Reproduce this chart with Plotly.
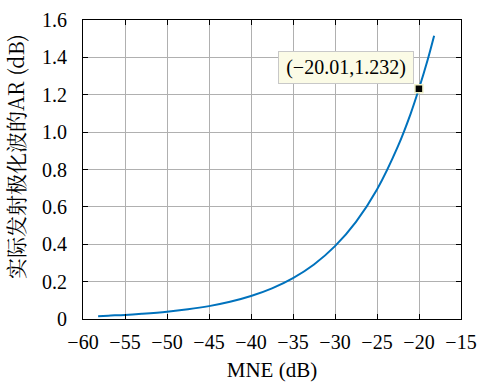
import plotly.graph_objects as go

# Data
mne_db = [-58.2, -57, -55, -53, -50, -47.5, -45, -42.5, -40, -37.5, -35, -32.5, -30,
          -27.5, -25, -22.5, -21, -20.01, -19, -18.2]
ar_db = [0.015, 0.018, 0.022, 0.028, 0.039, 0.052, 0.069, 0.092, 0.123, 0.164, 0.219,
         0.292, 0.390, 0.520, 0.693, 0.925, 1.098, 1.232, 1.382, 1.516]
tip_x = [-20.01]
tip_y = [1.232]
tip_label = "(\u221220.01,1.232)"

x_ticks = [-60, -55, -50, -45, -40, -35, -30, -25, -20, -15]
x_ticktext = ["\u221260", "\u221255", "\u221250", "\u221245", "\u221240", "\u221235",
              "\u221230", "\u221225", "\u221220", "\u221215"]
y_ticks = [0, 0.2, 0.4, 0.6, 0.8, 1.0, 1.2, 1.4, 1.6]
y_ticktext = ["0", "0.2", "0.4", "0.6", "0.8", "1.0", "1.2", "1.4", "1.6"]

x_title = "MNE (dB)"
y_title = "实际发射极化波的AR (dB)"

serif = "Liberation Serif"

fig = go.Figure()
fig.add_trace(go.Scatter(x=mne_db, y=ar_db, mode="lines",
                         line=dict(color="#0072BD", width=2, shape="spline"),
                         showlegend=False, hoverinfo="skip"))
fig.add_trace(go.Scatter(x=tip_x, y=tip_y, mode="markers",
                         marker=dict(symbol="square", size=8, color="black",
                                     line=dict(color="#f2f2c8", width=1.5)),
                         showlegend=False, hoverinfo="skip"))

fig.add_annotation(x=tip_x[0], y=tip_y[0], xref="x", yref="y", text=tip_label,
                   showarrow=False, xanchor="right", yanchor="bottom",
                   xshift=-5, yshift=5, width=126,
                   font=dict(family=serif, size=20, color="black"),
                   bgcolor="#fbfbe6", bordercolor="#c8c8c8", borderwidth=1, borderpad=4)

# y-axis title placed as rotated text
fig.add_annotation(x=-0.18, y=0.545, xref="paper", yref="paper", text=y_title,
                   showarrow=False, textangle=-90, xanchor="center", yanchor="middle",
                   font=dict(family="Noto Serif CJK SC, Liberation Serif, serif",
                             size=21, color="black"))

axis_common = dict(showline=True, linecolor="black", linewidth=1, mirror="ticks",
                   ticks="inside", ticklen=5, tickcolor="black",
                   showgrid=True, gridcolor="#b0b0b0", gridwidth=1, zeroline=False,
                   automargin=False,
                   tickfont=dict(family=serif, size=20, color="black"))

fig.update_xaxes(range=[-60, -15], tickvals=x_ticks, ticktext=x_ticktext,
                 ticklabelstandoff=5,
                 title=dict(text=x_title, font=dict(family=serif, size=21, color="black"),
                            standoff=10),
                 **axis_common)
fig.update_yaxes(range=[0, 1.6], tickvals=y_ticks, ticktext=y_ticktext,
                 ticklabelstandoff=11,
                 **axis_common)

fig.update_layout(width=478, height=383, margin=dict(l=83, r=17, t=20, b=64),
                  plot_bgcolor="white", paper_bgcolor="white")

# remove the default page margin so the figure fills the window exactly
fig.write_html("out.html", config={"displayModeBar": False},
               post_script="document.body.style.margin='0px';document.body.style.overflow='hidden';")
